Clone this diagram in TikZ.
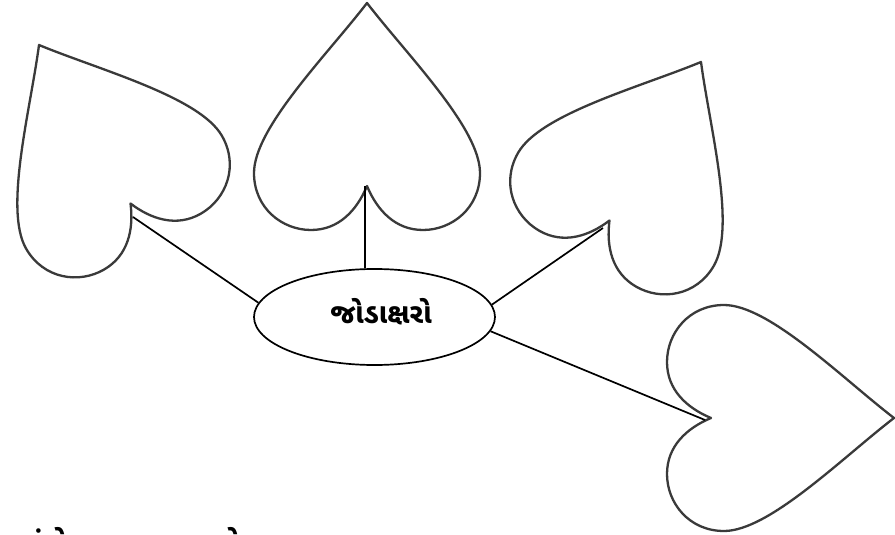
\documentclass[tikz,border=0pt]{standalone}
\usepackage{fontspec}
\usetikzlibrary{shapes.geometric}
\newfontfamily\guj[Script=Gujarati]{Noto Sans Gujarati UI}
\definecolor{heartline}{HTML}{3A3A3A}
\tikzset{
  heartshape/.style={draw=heartline, line width=2.3pt, line join=round, fill=white},
  link/.style={draw=black, line width=1.7pt},
  bubble/.style={ellipse, draw=black, line width=1.7pt, minimum width=241pt, minimum height=96pt, inner sep=0pt, fill=white},
}
\newcommand{\heartpath}{(0,0) .. controls (40,52) and (113,125) .. (113,170)
  .. controls (113,205) and (85,227) .. (56,227)
  .. controls (28,227) and (10,207) .. (0,183)
  .. controls (-10,207) and (-28,227) .. (-56,227)
  .. controls (-85,227) and (-113,205) .. (-113,170)
  .. controls (-113,125) and (-40,52) .. cycle}
\begin{document}
\begin{tikzpicture}[x=1pt, y=-1pt]
\useasboundingbox (0,0) rectangle (895,535);
\fill[white] (0,0) rectangle (895,535);
% hearts
\begin{scope}[shift={(39,45)}, rotate=30]
  \path[heartshape] \heartpath;
\end{scope}
\begin{scope}[shift={(367,3)}]
  \path[heartshape] \heartpath;
\end{scope}
\begin{scope}[shift={(701,62)}, rotate=-30]
  \path[heartshape] \heartpath;
\end{scope}
\begin{scope}[shift={(894,418)}, rotate=-90]
  \path[heartshape] \heartpath;
\end{scope}
% centre
\node[bubble] (e) at (374.5,317) {};
\node (lbl) at (381,312) {\guj\bfseries\fontsize{28}{32}\selectfont જોડાક્ષરો};
\coordinate (n1) at (133,217);
\coordinate (n2) at (365,186);
\coordinate (n3) at (603,228);
\coordinate (n4) at (705,420);
\draw[link] (e.173) -- (n1);
\draw[link] (e.101) -- (n2);
\draw[link] (e.6) -- (n3);
\draw[link] (e.353) -- (n4);
% cut-off line at the bottom
\node[anchor=base west, inner sep=0pt] (foot) at (16,552) {\guj\bfseries\fontsize{28}{32}\selectfont અંકોના સરવાળા કરો};
\end{tikzpicture}
\end{document}
